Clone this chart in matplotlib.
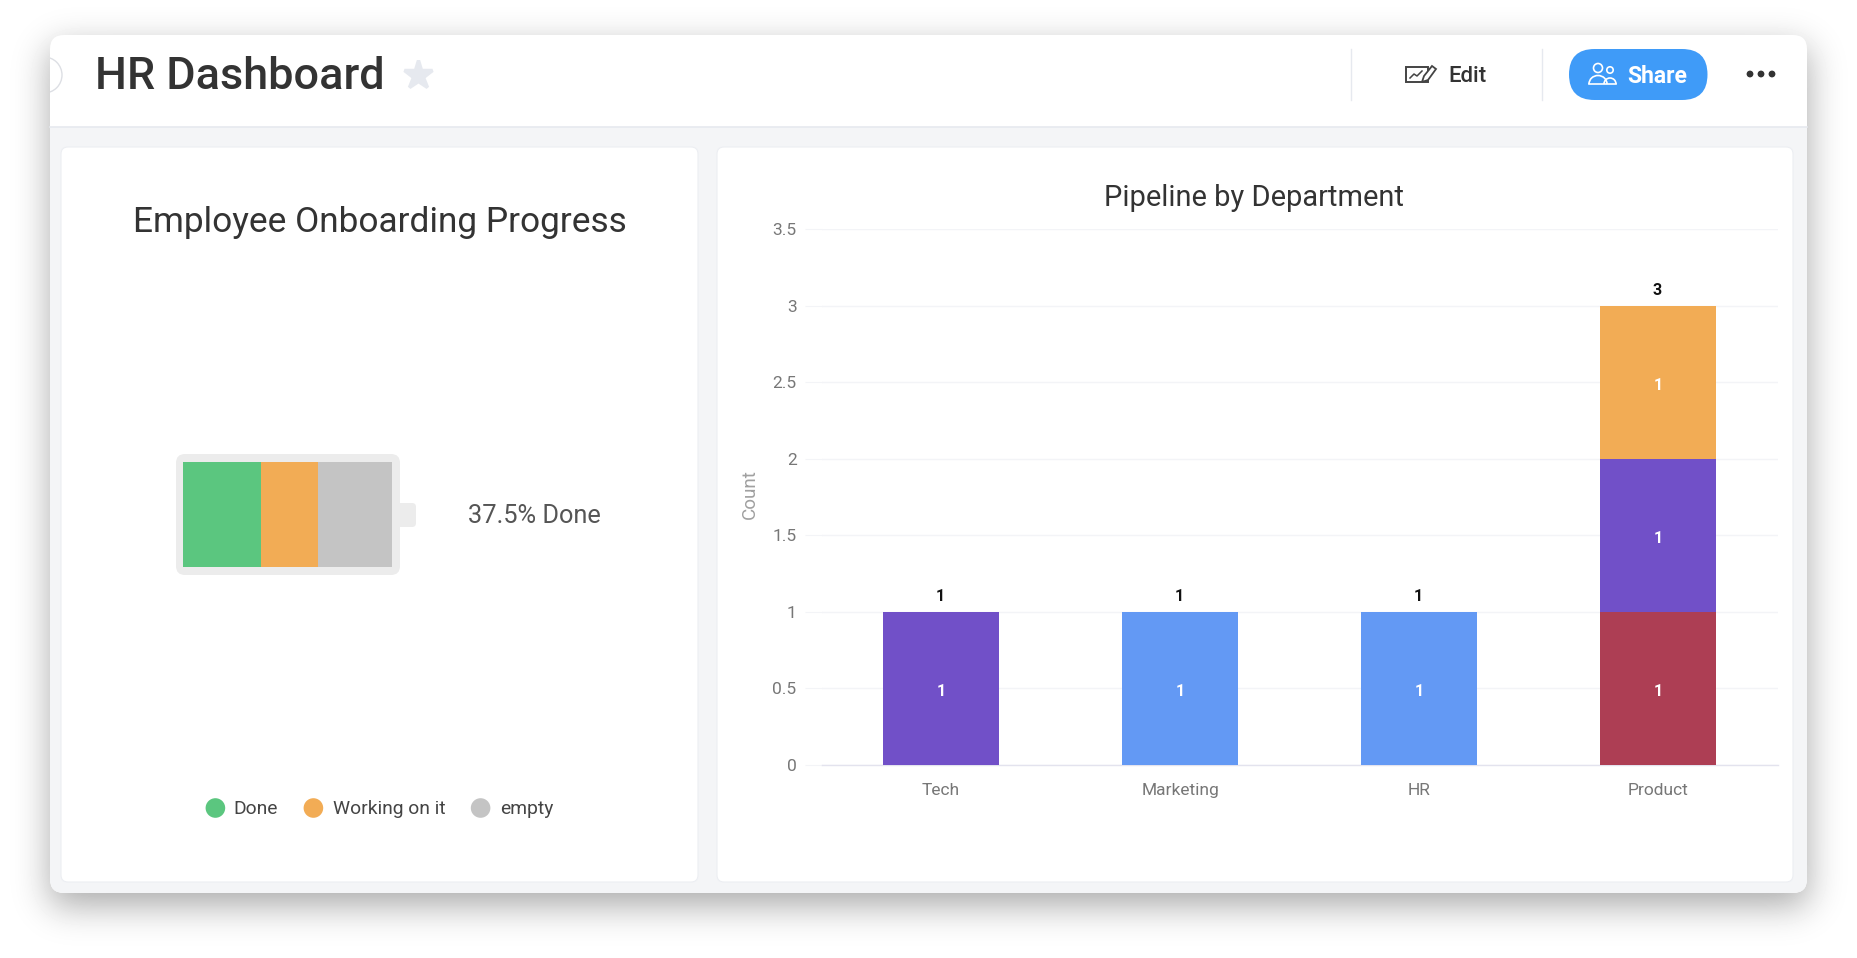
import math

import matplotlib
matplotlib.use('Agg')
import matplotlib.pyplot as plt
from matplotlib.patches import FancyBboxPatch, Rectangle, Circle, Arc, Polygon
import numpy as np

plt.rcParams['font.family'] = ['Roboto', 'DejaVu Sans']

# ---- Data ----
departments = ['Tech', 'Marketing', 'HR', 'Product']
dept_red = [0, 0, 0, 1]
dept_purple = [1, 0, 0, 1]
dept_blue = [0, 1, 1, 0]
dept_orange = [0, 0, 0, 1]
y_ticks = [0, 0.5, 1, 1.5, 2, 2.5, 3, 3.5]
y_tick_labels = ['0', '0.5', '1', '1.5', '2', '2.5', '3', '3.5']

progress_labels = ['Done', 'Working on it', 'empty']
progress_values = [37.5, 27, 35.5]

C_GREEN = '#5BC67F'
C_ORANGE = '#F2AC55'
C_GREY = '#C4C4C4'
C_PURPLE = '#7150C8'
C_BLUE = '#6399F4'
C_RED = '#AD3E54'
C_LINE = '#E6E9EF'
C_TEXT = '#333333'

W, H = 1857, 958
fig = plt.figure(figsize=(W / 100, H / 100), dpi=100, facecolor='white')


def px_axes(x0, y0, x1, y1, **kw):
    # axes from pixel box, y measured from top of picture
    return fig.add_axes([x0 / W, 1 - y1 / H, (x1 - x0) / W, (y1 - y0) / H], **kw)


# ---- Window, shadow, cards (all in picture pixels) ----
bg = fig.add_axes([0, 0, 1, 1])
bg.set_xlim(0, W)
bg.set_ylim(H, 0)
bg.axis('off')

erf = np.vectorize(math.erf)
xs = np.arange(W)
ys = np.arange(H)
sig = 18 * math.sqrt(2)
prof_x = 0.5 * (erf((xs - 50) / sig) - erf((xs - 1807) / sig))
prof_y = 0.5 * (erf((ys - 47) / sig) - erf((ys - 905) / sig))
shadow = 1 - 0.34 * np.outer(prof_y, prof_x)
bg.imshow(shadow, cmap='gray', vmin=0, vmax=1, extent=(0, W, H, 0),
          aspect='auto', interpolation='bilinear', zorder=0)
bg.set_xlim(0, W)
bg.set_ylim(H, 0)

window = FancyBboxPatch((50, 35), 1757, 858, boxstyle='round,pad=0,rounding_size=14',
                        fc='white', ec='none', zorder=1)
bg.add_patch(window)
body = Rectangle((50, 127), 1757, 770, fc='#F4F5F7', ec='none', zorder=1.5)
bg.add_patch(body)
body.set_clip_path(window)
bg.plot([50, 1807], [127, 127], color=C_LINE, lw=1.2, zorder=1.6)

for x0, x1 in [(61, 698), (717, 1793)]:
    bg.add_patch(FancyBboxPatch((x0, 147), x1 - x0, 735,
                                boxstyle='round,pad=0,rounding_size=7',
                                fc='white', ec='#ECEEF2', lw=0.8, zorder=2))

# ---- Header ----
back = Circle((44, 75), 18, fc='white', ec='#DDDFE4', lw=1, zorder=2)
bg.add_patch(back)
back.set_clip_path(window)
bg.text(95, 76.5, 'HR Dashboard', fontsize=32.4, fontweight='medium', color=C_TEXT,
        va='center', ha='left', zorder=3)
bg.plot([418], [75], marker='*', ms=21, color='#E6E9EF', mec='#E6E9EF', mew=2.5,
        zorder=3)

for x in [1350.5, 1541.5]:
    bg.plot([x, x], [49, 100], color=C_LINE, lw=1, zorder=3)

# edit icon
bg.add_patch(Rectangle((1406, 67), 22, 15, fc='none', ec='#444444', lw=1.4, zorder=3))
bg.plot([1410, 1414, 1417, 1422], [78, 74, 76, 71], color='#444444', lw=1.1, zorder=3)
bg.add_patch(Polygon([[1422, 82], [1424, 76], [1432, 66], [1436, 69], [1428, 80]],
                     fc='white', ec='#444444', lw=1.3, zorder=4))
bg.text(1468, 76, 'Edit', fontsize=16, fontweight='medium', color=C_TEXT,
        ha='center', va='center', zorder=3)

# share button
bg.add_patch(FancyBboxPatch((1569, 49), 138.5, 51, boxstyle='round,pad=0,rounding_size=25.5',
                            fc='#3F9BF8', ec='none', zorder=3))
bg.add_patch(Circle((1598, 68), 4.5, fc='none', ec='white', lw=1.2, zorder=4))
bg.add_patch(Circle((1610, 70), 3.2, fc='none', ec='white', lw=1.2, zorder=4))
bg.add_patch(Arc((1598, 84), 18, 17, theta1=180, theta2=360, ec='white', lw=1.2, zorder=4))
bg.add_patch(Arc((1610, 84), 12, 12, theta1=180, theta2=360, ec='white', lw=1.2, zorder=4))
bg.plot([1589, 1616], [84, 84], color='white', lw=1.2, zorder=4)
bg.text(1657.5, 76, 'Share', fontsize=16.5, fontweight='bold', color='white',
        ha='center', va='center', zorder=4)

for x in [1750, 1761, 1772]:
    bg.add_patch(Circle((x, 74), 3.4, fc='#333333', ec='none', zorder=3))

# ---- Left card: battery ----
bg.text(379.5, 222, 'Employee Onboarding Progress', fontsize=25.4, color=C_TEXT,
        ha='center', va='center', zorder=3)
bg.add_patch(FancyBboxPatch((176, 454), 224, 121, boxstyle='round,pad=0,rounding_size=9',
                            fc='#ECECEC', ec='none', zorder=3))
bg.add_patch(FancyBboxPatch((396, 503), 20, 24, boxstyle='round,pad=0,rounding_size=4',
                            fc='#ECECEC', ec='none', zorder=2.9))

bat = px_axes(183, 462, 392, 567)
bat.patch.set_alpha(0)
bat.axis('off')
left = 0
for val, col in zip(progress_values, [C_GREEN, C_ORANGE, C_GREY]):
    bat.barh(0, val, left=left, height=1, color=col)
    left += val
bat.set_xlim(0, 100)
bat.set_ylim(-0.5, 0.5)

bg.text(468, 516, '37.5% Done', fontsize=18.3, color='#555555', ha='left', va='center',
        zorder=3)

# legend
for lbl, col, cx, tx in zip(progress_labels, [C_GREEN, C_ORANGE, C_GREY],
                            [215.4, 313.4, 480.6], [233.5, 333, 500]):
    bg.add_patch(Circle((cx, 808), 9.8, fc=col, ec='none', zorder=3))
    bg.text(tx, 808.5, lbl, fontsize=13.9, color='#444444', ha='left', va='center', zorder=3)

# ---- Right card: stacked bars ----
ax = px_axes(821.5, 229, 1778, 765)
ax.patch.set_alpha(0)
x_pos = np.arange(len(departments))
bottom = np.zeros(len(departments))
for vals, col in [(dept_red, C_RED), (dept_purple, C_PURPLE),
                  (dept_blue, C_BLUE), (dept_orange, C_ORANGE)]:
    vals = np.array(vals, dtype=float)
    ax.bar(x_pos, vals, width=0.485, bottom=bottom, color=col, zorder=3, linewidth=0)
    for i, v in enumerate(vals):
        if v > 0:
            ax.annotate(f'{v:.0f}', (i, bottom[i] + v / 2), xytext=(0, -3),
                        textcoords='offset pixels', ha='center', va='center',
                        color='white', fontsize=11.5, fontweight='bold', zorder=4)
    bottom += vals
for i, total in enumerate(bottom):
    ax.annotate(f'{total:.0f}', (i, total), xytext=(-1, 15), textcoords='offset pixels',
                ha='center', va='center', color='#111111', fontsize=11.5,
                fontweight='bold', zorder=4)

ax.set_xlim(-0.5, 3.5)
ax.set_ylim(0, 3.5)
ax.set_yticks(y_ticks)
ax.set_yticklabels(y_tick_labels, fontsize=12.5, color='#777777')
ax.set_xticks(x_pos)
ax.set_xticklabels(departments, fontsize=12.5, color='#777777')
ax.tick_params(axis='y', length=12.5, width=0.8, color='#F3F4F7', pad=5.5)
ax.tick_params(axis='x', length=0, pad=13)
ax.grid(axis='y', color='#F3F4F7', lw=1, zorder=1)
for name in ['top', 'right', 'left']:
    ax.spines[name].set_visible(False)
ax.spines['bottom'].set_color('#E3E3EE')
ax.spines['bottom'].set_linewidth(1)
ax.set_axisbelow(True)

bg.text(750, 494, 'Count', fontsize=13.6, color='#A0A0A0', rotation=90,
        ha='center', va='center', zorder=3)
bg.text(1254.5, 198, 'Pipeline by Department', fontsize=20.9, color=C_TEXT,
        ha='center', va='center', zorder=3)

fig.savefig('out.png', dpi=100, facecolor='white')
